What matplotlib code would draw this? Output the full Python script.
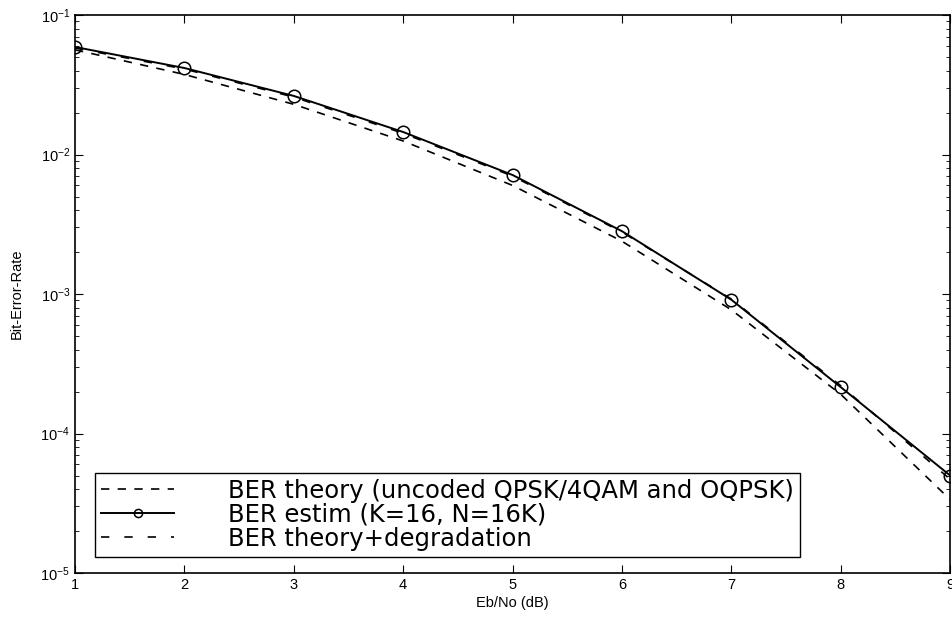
import matplotlib
matplotlib.use("Agg")
import matplotlib.pyplot as plt
from matplotlib.ticker import LogLocator, NullFormatter, FixedLocator

plt.rcParams['font.family'] = ['Liberation Sans', 'DejaVu Sans']

ebno = [1, 2, 3, 4, 5, 6, 7, 8, 9]
ber_theory = [0.0563, 0.0375, 0.0229, 0.0125, 0.0060, 0.00239, 0.00077, 0.000191, 0.0000336]
ber_estim = [0.059, 0.0417, 0.0263, 0.0145, 0.00713, 0.00282, 0.00091, 0.000215, 0.0000500]
ber_degr = [0.058, 0.0410, 0.0258, 0.0142, 0.00700, 0.00278, 0.00092, 0.000220, 0.0000470]

labels = ['BER theory (uncoded QPSK/4QAM and OQPSK)',
          'BER estim (K=16, N=16K)',
          'BER theory+degradation']

fig = plt.figure(figsize=(9.53, 6.18), dpi=100)
ax = fig.add_axes([0.0787, 0.0728, 0.9183, 0.9029])

ax.semilogy(ebno, ber_theory, color='black', lw=1.2, dashes=(5, 5), label=labels[0])
ax.semilogy(ebno, ber_estim, color='black', lw=1.4, marker='o', ms=9, mfc='none',
            mew=1.1, label=labels[1])
ax.semilogy(ebno, ber_degr, color='black', lw=1.2, dashes=(5, 9), label=labels[2])

ax.set_xlim(1, 9)
ax.set_ylim(1e-5, 1e-1)
ax.xaxis.set_major_locator(FixedLocator(ebno))
ax.yaxis.set_major_locator(LogLocator(base=10, numticks=10))
ax.yaxis.set_minor_locator(LogLocator(base=10, subs=range(2, 10), numticks=10))
ax.yaxis.set_minor_formatter(NullFormatter())
ax.tick_params(which='both', direction='in', top=True, right=True, labelsize=10.5)
ax.tick_params(which='major', length=6)
ax.tick_params(which='minor', length=3)
for s in ax.spines.values():
    s.set_linewidth(1.2)

ax.set_xlabel('Eb/No (dB)', fontsize=10.5, labelpad=3)
ax.set_ylabel('Bit-Error-Rate', fontsize=10.5, labelpad=12)

leg = ax.legend(loc='lower left', bbox_to_anchor=(0.023, 0.029), borderaxespad=0,
                prop={'family': 'DejaVu Sans', 'size': 17.5},
                frameon=True, fancybox=False, edgecolor='black', framealpha=1,
                markerscale=0.65,
                handlelength=3.0, handletextpad=2.2, borderpad=0.25, labelspacing=0.0)
leg.get_frame().set_linewidth(1.0)

fig.savefig('out.png', dpi=100)
